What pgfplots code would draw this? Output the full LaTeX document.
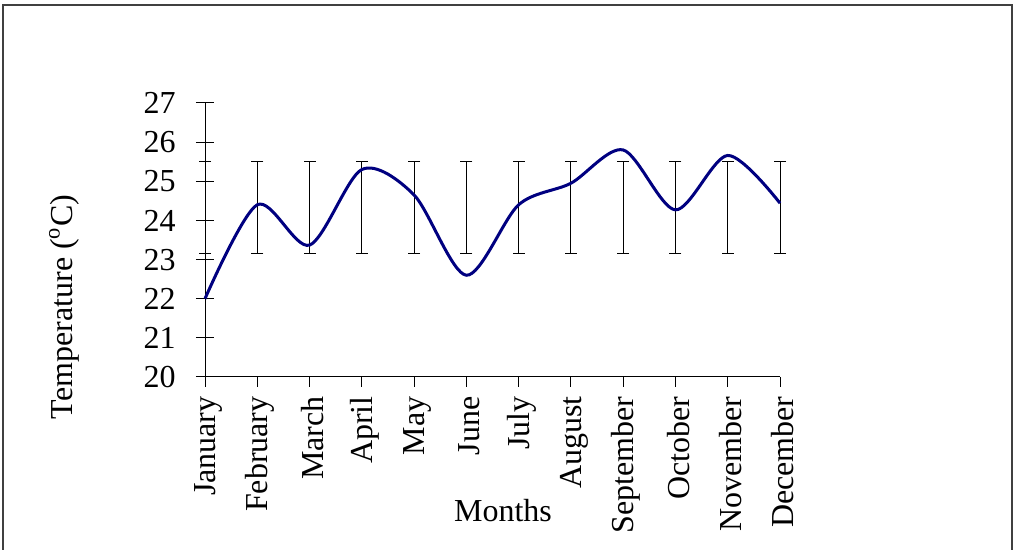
\documentclass[border=0pt]{standalone}
\usepackage{pgfplots}
\pgfplotsset{compat=1.18}
\usepackage{fontspec}
\setmainfont{Liberation Serif}
\definecolor{navyline}{RGB}{0,0,128}
\begin{document}
\fontsize{16}{19}\selectfont
\begin{tikzpicture}
\useasboundingbox (0,0) rectangle (506.5pt,275pt);
% outer frame (open at the bottom edge of the page)
\draw[black!75, line width=1pt] (1.5pt,-10pt) -- (1.5pt,272.5pt) -- (506pt,272.5pt) -- (506pt,-10pt);
\begin{axis}[
  at={(102.5pt,86.5pt)}, anchor=south west,
  scale only axis, width=287.5pt, height=137pt,
  xmin=0, xmax=11, ymin=20, ymax=27,
  axis lines*=left,
  axis line style={line width=0.5pt, -},
  clip=false,
  xtick={0,...,11},
  xticklabels={January,February,March,April,May,June,July,August,September,October,November,December},
  ytick={20,...,27},
  tick align=center,
  major tick length=9pt,
  tick style={black, line width=0.5pt},
  xtick style={draw=none},
  xticklabel style={yshift=-5pt, xshift=1.5pt, rotate=90, anchor=east, inner sep=0pt},
  yticklabel style={anchor=east, inner sep=0pt, xshift=-10pt},
  /pgf/number format/assume math mode=true,
]
% x ticks drawn below the axis line only
\pgfplotsinvokeforeach{0,...,11}{\draw[line width=0.5pt] (axis cs:#1,20) -- ([yshift=-5pt]axis cs:#1,20);}
% spread bars, 23.16 to 25.5 for every month
\pgfplotsinvokeforeach{0,...,11}{
  \addplot[black, line width=0.5pt, mark=-, mark size=3pt, mark options={solid}, forget plot]
    coordinates {(#1,23.16) (#1,25.5)};
}
% monthly temperature
\addplot[navyline, line width=1.5pt, smooth, mark=none] coordinates {
  (0,22.0) (1,24.4) (2,23.37) (3,25.3) (4,24.65) (5,22.6)
  (6,24.4) (7,24.95) (8,25.8) (9,24.27) (10,25.66) (11,24.44)
};
\end{axis}
\node[rotate=90, anchor=center] at (32pt,121.5pt) {Temperature (\textsuperscript{o}C)};
\node[anchor=base] at (251.5pt,14.15pt) {Months};
\end{tikzpicture}
\end{document}
